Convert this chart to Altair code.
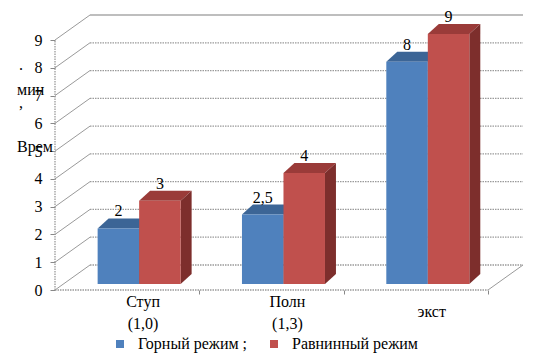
import altair as alt
import pandas as pd

# ---- data ----
categories = ["Ступ\n(1,0)", "Полн\n(1,3)", "экст"]
series = ["Горный режим", "Равнинный режим"]
mountain = [2, 2.5, 8]
plain = [3, 4, 9]
y_ticks = list(range(10))

# ---- styling / pseudo-3D geometry (in data units) ----
W_DX, W_DY = 0.2425, 0.9          # wall depth
B_OFF, B_BASE, B_W = 0.083, 0.216, 0.2876
B_DX, B_DY = 0.076, 0.36          # bar depth
FONT = "Liberation Serif"
front_col = {"Горный режим": "#4F81BD", "Равнинный режим": "#C0504D"}
top_col = {"Горный режим": "#3C6596", "Равнинный режим": "#9A3B39"}
side_col = {"Горный режим": "#2F5179", "Равнинный режим": "#7D2E2C"}
GRID = "#9a9a9a"

xs = alt.Scale(domain=[0, 3 + W_DX], nice=False, zero=False)
ys = alt.Scale(domain=[0, 9 + W_DY], nice=False, zero=False)
xaxis = alt.Axis(values=[1, 2, 3], labels=False, domain=False, grid=False,
                 tickColor="#888", tickSize=4, title=None)
yaxis = alt.Axis(values=y_ticks, domain=False, grid=False, tickColor="#888",
                 tickSize=5, labelFont=FONT, labelFontSize=16, labelColor="black",
                 labelPadding=8, title=None)


def X(f):
    return alt.X(f, type="quantitative", scale=xs, axis=xaxis)


def Y(f):
    return alt.Y(f, type="quantitative", scale=ys, axis=yaxis)


rows, tops, sides = [], [], []
for i, cat in enumerate(categories):
    for s, (name, vals) in enumerate(zip(series, [mountain, plain])):
        v = vals[i]
        x0 = i + 0.5 + B_OFF + (s - 1) * B_W
        x1 = x0 + B_W
        y0, y1 = B_BASE, B_BASE + v
        bid = f"{i}-{s}"
        lab = (f"{v:g}").replace(".", ",")
        rows.append(dict(id=bid, series=name, x0=x0, x1=x1, y0=y0, y1=y1,
                         xc=(x0 + x1) / 2, yl=y1 + B_DY, label=lab))
        tops.append(dict(id=bid, y=y1, xa=x0, xb=x1, fill=top_col[name]))
        tops.append(dict(id=bid, y=y1 + B_DY, xa=x0 + B_DX, xb=x1 + B_DX, fill=top_col[name]))
        sides.append(dict(id=bid, x=x1, yt=y1, yb=y0, fill=side_col[name]))
        sides.append(dict(id=bid, x=x1 + B_DX, yt=y1 + B_DY, yb=y0 + B_DY, fill=side_col[name]))

bars = pd.DataFrame(rows)
tops = pd.DataFrame(tops)
sides = pd.DataFrame(sides)

grid_df = pd.DataFrame({"k": y_ticks})
grid_df["xa"] = W_DX
grid_df["xb"] = 3 + W_DX
grid_df["yb"] = grid_df["k"] + W_DY
grid_df["x0"] = 0.0
grid_df["solid"] = grid_df["k"] == max(y_ticks)

back_dotted = alt.Chart(grid_df[~grid_df["solid"]]).mark_rule(
    color=GRID, strokeDash=[1.5, 1], strokeWidth=1.3
).encode(x=X("xa"), x2="xb", y=Y("yb"))
back_solid = alt.Chart(grid_df[grid_df["solid"]]).mark_rule(
    color="#a8a8a8", strokeWidth=1.3
).encode(x=X("xa"), x2="xb", y=Y("yb"))
left_diag = alt.Chart(grid_df).mark_rule(color=GRID, strokeWidth=1).encode(
    x=X("x0"), x2="xa", y=Y("k"), y2="yb")

edge_df = pd.DataFrame({"xa": [3.0], "xb": [3 + W_DX], "ya": [0.0], "yb": [W_DY]})
right_diag = alt.Chart(edge_df).mark_rule(color=GRID, strokeWidth=1).encode(
    x=X("xa"), x2="xb", y=Y("ya"), y2="yb")

front_df = pd.DataFrame({"xa": [0.0], "xb": [3.0], "ya": [0.0], "yb": [float(max(y_ticks))]})
front_base = alt.Chart(front_df).mark_rule(color=GRID, strokeDash=[1.5, 1], strokeWidth=1.3).encode(
    x=X("xa"), x2="xb", y=Y("ya"))
front_axis = alt.Chart(front_df).mark_rule(color=GRID, strokeDash=[1.5, 1], strokeWidth=1.3).encode(
    x=X("xa"), y=Y("ya"), y2="yb")

top_layer = alt.Chart(tops).mark_area(orient="horizontal").encode(
    y=Y("y"), x=X("xa"), x2="xb", detail="id:N",
    color=alt.Color("fill:N", scale=None))
side_layer = alt.Chart(sides).mark_area(orient="vertical").encode(
    x=X("x"), y=Y("yt"), y2="yb", detail="id:N",
    color=alt.Color("fill:N", scale=None))
front_layer = alt.Chart(bars).mark_rect().encode(
    x=X("x0"), x2="x1", y=Y("y0"), y2="y1",
    color=alt.Color("series:N",
                    scale=alt.Scale(domain=series, range=[front_col[s] for s in series]),
                    legend=alt.Legend(title=None, orient="none", legendX=57, legendY=321,
                                      direction="horizontal", symbolType="square",
                                      symbolSize=64, symbolStrokeWidth=0,
                                      labelFont=FONT, labelFontSize=16, labelColor="black",
                                      labelOffset=10, columnPadding=18, padding=0,
                                      labelExpr="datum.label == 'Горный режим' ? 'Горный режим ;' : datum.label")))
value_labels = alt.Chart(bars).mark_text(font=FONT, fontSize=16, baseline="middle",
                                         dy=-7, color="black").encode(
    x=X("xc"), y=Y("yl"), text="label:N")

cat_df = pd.DataFrame({"cat": categories, "xi": [i + 0.5 + 0.11 for i in range(len(categories))]})
cat_df["py"] = [287 if "\n" in c else 297 for c in categories]
cat_labels = alt.Chart(cat_df).mark_text(font=FONT, fontSize=16, baseline="middle",
                                         lineBreak="\n", lineHeight=22, color="black").encode(
    x=X("xi"), y=alt.Y("py:Q", scale=None), text="cat:N")

title_parts = pd.DataFrame({
    "t": [".", "мин", ",", "Врем"],
    "px": [-36, -38, -36, -38],
    "py": [50, 75, 88, 132],
})
ytitle = alt.Chart(title_parts).mark_text(font=FONT, fontSize=16, align="left",
                                          baseline="middle", color="black").encode(
    x=alt.X("px:Q", scale=None), y=alt.Y("py:Q", scale=None), text="t:N")

chart = alt.layer(
    back_dotted, back_solid, left_diag, right_diag, front_base, front_axis,
    top_layer, side_layer, front_layer, value_labels, cat_labels, ytitle
).properties(
    width=468, height=275,
    autosize=alt.AutoSizeParams(type="none"),
    padding={"left": 47, "top": 7, "right": 3, "bottom": 68},
    background="white",
).configure_view(stroke=None)

chart.save("out.html", embed_options={"renderer": "svg", "actions": False})
